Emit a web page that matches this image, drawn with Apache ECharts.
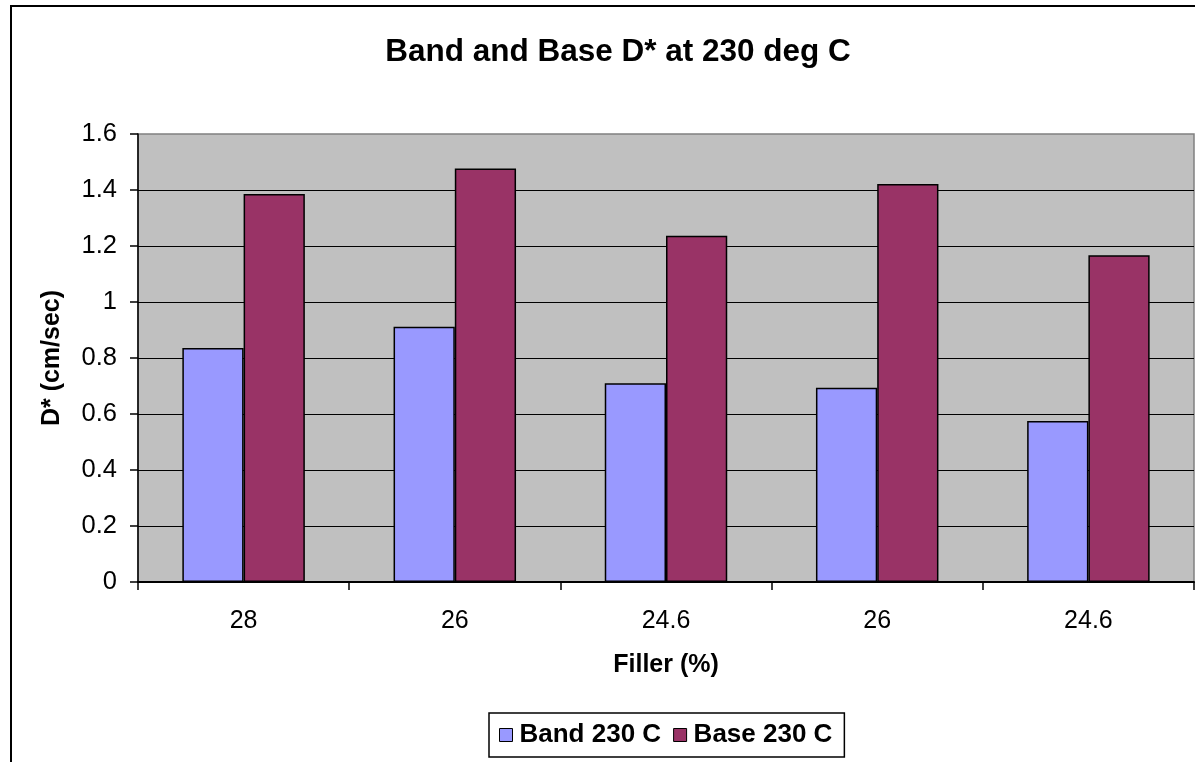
<!DOCTYPE html>
<html>
<head>
<meta charset="utf-8">
<script src="https://cdn.jsdelivr.net/npm/echarts@6/dist/echarts.min.js"></script>
<style>
  html, body { margin: 0; padding: 0; background: #ffffff; }
  #chart { width: 1195px; height: 762px; }
</style>
</head>
<body>
<div id="chart"></div>
<script>
// Filler content for each sample (x categories)
const fillerLabels = ['28', '26', '24.6', '26', '24.6'];
// D* values in cm/sec
const band230 = [0.836, 0.912, 0.710, 0.694, 0.575];
const base230 = [1.386, 1.477, 1.237, 1.421, 1.167];
const seriesNames = ['Band 230 C', 'Base 230 C'];

const FONT = '"Liberation Sans", Arial, sans-serif';

const chart = echarts.init(document.getElementById('chart'));

chart.setOption({
  backgroundColor: '#ffffff',
  animation: false,
  graphic: [
    {
      // outer chart frame
      type: 'rect',
      z: -10,
      silent: true,
      shape: { x: 11, y: 6, width: 1400, height: 1000 },
      style: { fill: 'none', stroke: '#000000', lineWidth: 2 }
    }
  ],
  title: {
    text: 'Band and Base D* at 230 deg C',
    left: 613,
    top: 31,
    textAlign: 'center',
    textStyle: { fontFamily: FONT, fontSize: 31.5, fontWeight: 'bold', color: '#000000' }
  },
  legend: {
    data: seriesNames,
    left: 489,
    top: 713,
    orient: 'horizontal',
    icon: 'rect',
    itemWidth: 13,
    itemHeight: 13,
    itemGap: 12,
    padding: [9, 12, 9, 10],
    borderColor: '#000000',
    borderWidth: 1.5,
    backgroundColor: '#ffffff',
    textStyle: { fontFamily: FONT, fontSize: 26, fontWeight: 'bold', color: '#000000', padding: [0, 0, 0, 2] },
    itemStyle: { borderColor: '#000000', borderWidth: 1 }
  },
  grid: {
    left: 138,
    right: 1,
    top: 134,
    bottom: 180,
    show: true,
    backgroundColor: '#c0c0c0',
    borderColor: '#808080',
    borderWidth: 1.5,
    containLabel: false
  },
  xAxis: {
    type: 'category',
    data: fillerLabels,
    name: 'Filler (%)',
    nameLocation: 'middle',
    nameGap: 71,
    nameTextStyle: { fontFamily: FONT, fontSize: 25, fontWeight: 'bold', color: '#000000' },
    axisLine: { show: true, lineStyle: { color: '#000000', width: 2 } },
    axisTick: { show: true, alignWithLabel: false, length: 8, lineStyle: { color: '#000000', width: 1.5 } },
    axisLabel: { fontFamily: FONT, fontSize: 25, color: '#000000', margin: 27 },
    splitLine: { show: false }
  },
  yAxis: {
    type: 'value',
    min: 0,
    max: 1.6,
    interval: 0.2,
    name: 'D* (cm/sec)',
    nameLocation: 'middle',
    nameGap: 73,
    nameRotate: 90,
    nameTextStyle: { fontFamily: FONT, fontSize: 25, fontWeight: 'bold', color: '#000000' },
    axisLine: { show: true, lineStyle: { color: '#000000', width: 1.5 } },
    axisTick: { show: true, length: 8, inside: false, lineStyle: { color: '#000000', width: 1.5 } },
    axisLabel: {
      fontFamily: FONT, fontSize: 25.5, color: '#000000', margin: 21,
      formatter: function (v) { return String(Math.round(v * 10) / 10); }
    },
    splitLine: { show: true, showMaxLine: false, lineStyle: { color: '#000000', width: 1.2 } }
  },
  series: [
    {
      name: seriesNames[0],
      type: 'bar',
      data: band230,
      barGap: '0%',
      barCategoryGap: '42%',
      itemStyle: { color: '#9999ff', borderColor: '#000000', borderWidth: 1.5 }
    },
    {
      name: seriesNames[1],
      type: 'bar',
      data: base230,
      barGap: '0%',
      barCategoryGap: '42%',
      itemStyle: { color: '#993366', borderColor: '#000000', borderWidth: 1.5 }
    }
  ]
});
</script>
</body>
</html>
